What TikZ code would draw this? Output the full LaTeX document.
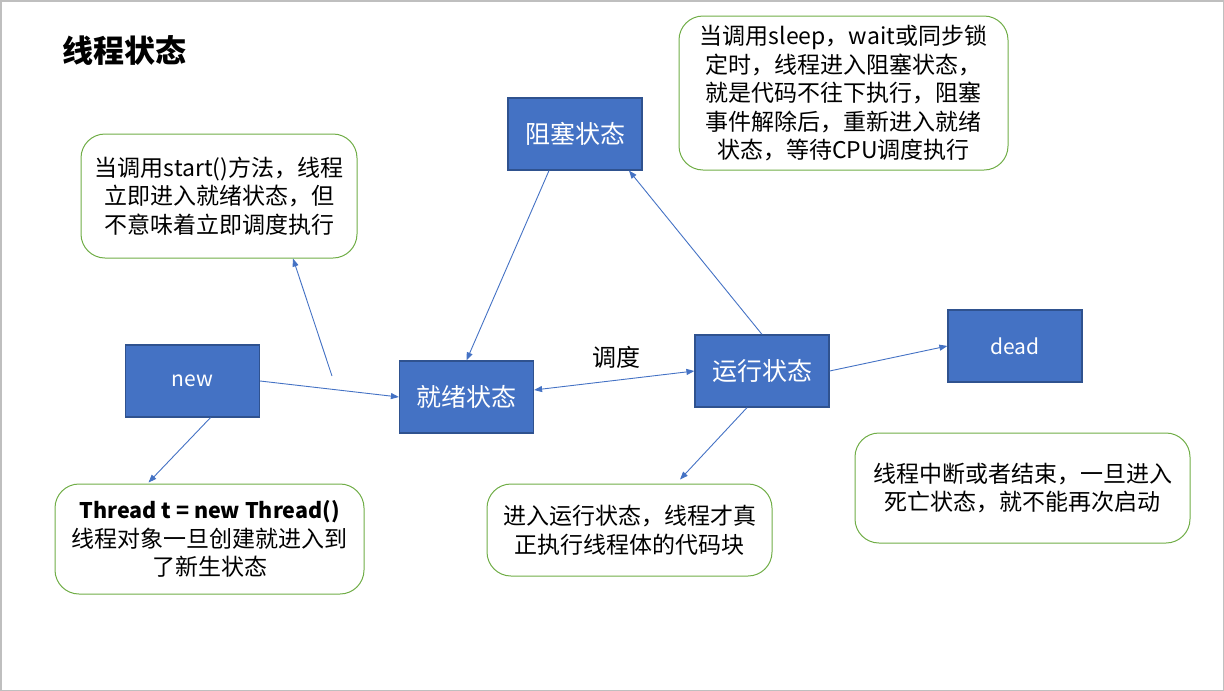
\documentclass[tikz,border=0pt]{standalone}
\usepackage{fontspec}
\setmainfont{Noto Sans CJK SC}
\usetikzlibrary{arrows.meta}
\definecolor{boxblue}{HTML}{4472C4}
\definecolor{boxedge}{HTML}{2F528F}
\definecolor{notegreen}{HTML}{70AD47}
\definecolor{framegray}{HTML}{BFBFBF}
\begin{document}
\begin{tikzpicture}[x=1pt,y=-1pt,
 state/.style={draw=boxedge, line width=1.2pt, fill=boxblue, text=white,
   minimum width=134pt, minimum height=72pt, inner sep=0pt,
   font=\fontsize{25}{29}\selectfont},
 latin/.style={font=\fontsize{21}{26}\selectfont},
 note/.style={draw=notegreen, line width=1pt, rounded corners=24pt, align=center,
   inner sep=0pt, font=\fontsize{23}{28.5}\selectfont},
 link/.style={draw=boxblue, line width=0.9pt, -{Triangle[length=8pt,width=6pt]}},
 dlink/.style={draw=boxblue, line width=0.9pt, {Triangle[length=8pt,width=6pt]}-{Triangle[length=8pt,width=6pt]}},
]
\useasboundingbox (0,0) rectangle (1224,691);
\draw[framegray, line width=1.5pt] (0.75,0.75) rectangle (1223.25,690.25);

\node[font=\fontsize{31}{35}\selectfont\bfseries] (title) at (124,51) {线程状态};

% states
\node[state, latin] (new) at (192.5,381) {new};
\node[state] (ready) at (466.5,397) {就绪状态};
\node[state] (block) at (575,134) {阻塞状态};
\node[state] (run) at (762,371) {运行状态};
\node[state, latin] (dead) at (1015,346) {dead};

\node[font=\fontsize{24}{28}\selectfont] (sched) at (616,357) {调度};

% notes
\node[note, minimum width=276pt, minimum height=124pt] (nstart) at (219,196)
  {当调用start()方法，线程\\立即进入就绪状态，但\\不意味着立即调度执行};
\node[note, minimum width=329pt, minimum height=154pt] (nblock) at (843.5,93)
  {当调用sleep，wait或同步锁\\定时，线程进入阻塞状态，\\就是代码不往下执行，阻塞\\事件解除后，重新进入就绪\\状态，等待CPU调度执行};
\node[note, minimum width=309pt, minimum height=110pt] (nnew) at (209.5,539)
  {{\fontsize{21.5}{28.5}\selectfont\bfseries Thread t = new Thread()}\\线程对象一旦创建就进入到\\了新生状态};
\node[note, minimum width=285pt, minimum height=92pt] (nrun) at (629.5,530)
  {进入运行状态，线程才真\\正执行线程体的代码块};
\node[note, minimum width=335pt, minimum height=110pt] (ndead) at (1022.5,488)
  {线程中断或者结束，一旦进入\\死亡状态，就不能再次启动};

% connectors
\coordinate (startfoot) at (332,376);
\draw[link] (startfoot) -- ([xshift=74pt]nstart.south);
\draw[link] (new.east) -- (ready.west);
\draw[link] ([xshift=18pt]new.south) -- ([xshift=-61pt,yshift=1pt]nnew.north);
\draw[link] ([xshift=-26pt]block.south) -- (ready.north);
\draw[link] (run.north) -- ([xshift=54pt]block.south);
\draw[dlink] ([yshift=7pt]ready.east) -- (run.west);
\draw[link] (run.east) -- (dead.west);
\draw[link] ([xshift=-15pt]run.south) -- ([xshift=50.5pt,yshift=4pt]nrun.north);
\end{tikzpicture}
\end{document}
